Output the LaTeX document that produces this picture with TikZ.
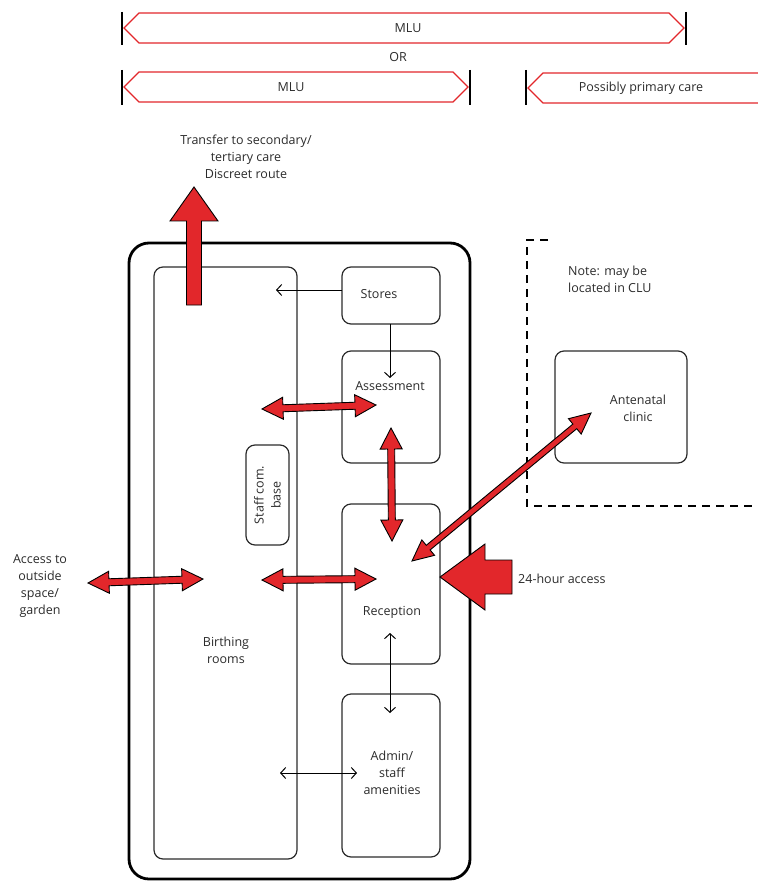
\documentclass[tikz,border=0pt]{standalone}
\usepackage{fontspec}
\setmainfont{Open Sans}
\usetikzlibrary{calc,arrows.meta}
\definecolor{redA}{HTML}{E2272B}
\definecolor{lineA}{HTML}{2B2B2B}
\tikzset{
  room/.style={draw=lineA, line width=1.2pt, rounded corners=9pt, inner sep=0pt},
  lbl/.style={font=\fontsize{12.5}{17}\selectfont, text=lineA, align=center, inner sep=0pt},
  fatarrow/.style={fill=redA, draw=black, line width=0.9pt, line join=miter},
  banner/.style={draw=redA, line width=1.2pt},
  tick/.style={draw=black, line width=1.2pt},
  thin/.style={draw=black, line width=1pt, {Straight Barb[length=5pt,width=11pt]}-{Straight Barb[length=5pt,width=11pt]}},
  thinone/.style={draw=black, line width=1pt, -{Straight Barb[length=5pt,width=11pt]}},
}
\newcommand\fatdbl[5]{%
  \filldraw[fatarrow] (#1)
   -- ($(#1)!#5!(#2)!#4!90:(#2)$) -- ($(#1)!#5!(#2)!#3!90:(#2)$)
   -- ($(#2)!#5!(#1)!#3!-90:(#1)$) -- ($(#2)!#5!(#1)!#4!-90:(#1)$)
   -- (#2)
   -- ($(#2)!#5!(#1)!#4!90:(#1)$) -- ($(#2)!#5!(#1)!#3!90:(#1)$)
   -- ($(#1)!#5!(#2)!#3!-90:(#2)$) -- ($(#1)!#5!(#2)!#4!-90:(#2)$)
   -- cycle;}
\begin{document}
\begin{tikzpicture}[x=1pt,y=-1pt]
\useasboundingbox (0,0) rectangle (757,882);
% ---- banners
\draw[tick] (122,12) -- (122,45);
\draw[tick] (686,12) -- (686,45);
\draw[banner] (124,28) -- (139,13) -- (669,13) -- (684,28) -- (669,43) -- (139,43) -- cycle;
\node[lbl] (mlu1) at (408,28) {MLU};
\node[lbl] (or) at (398,57) {OR};
\draw[tick] (122,70) -- (122,105);
\draw[tick] (470,70) -- (470,105);
\draw[banner] (124,87) -- (139,72) -- (453,72) -- (468,87) -- (453,102) -- (139,102) -- cycle;
\node[lbl] (mlu2) at (291,87) {MLU};
\draw[tick] (526,70) -- (526,105);
\draw[banner] (770,73) -- (543,73) -- (528,88) -- (543,103) -- (770,103);
\node[lbl] (ppc) at (641,88) {Possibly primary care};
% ---- transfer text
\node[lbl] (transfer) at (246,157) {Transfer to secondary/\\tertiary care\\Discreet route};
% ---- outer unit
\draw[draw=black, line width=2.8pt, rounded corners=20pt] (129,243) rectangle (470,879);
% ---- rooms
\node[room, minimum width=143pt, minimum height=592pt] (birth) at (225.5,563) {};
\node[room, minimum width=98pt, minimum height=57pt] (stores) at (391,295.5) {};
\node[room, minimum width=98pt, minimum height=112pt] (assess) at (391,407) {};
\node[room, minimum width=98pt, minimum height=160pt] (recep) at (391,584) {};
\node[room, minimum width=98pt, minimum height=163pt] (admin) at (391,775.5) {};
\node[room, minimum width=43pt, minimum height=100pt] (staff) at (267.5,495) {};
\node[room, minimum width=132pt, minimum height=112pt] (ante) at (621,407) {};
% ---- labels
\node[lbl] (tstores) at (379,294) {Stores};
\node[lbl] (tassess) at (390,386) {Assessment};
\node[lbl] (trecep) at (392,612) {Reception};
\node[lbl] (tadmin) at (392,773) {Admin/\\staff\\amenities};
\node[lbl] (tbirth) at (226,650) {Birthing\\rooms};
\node[lbl, rotate=90] (tstaff) at (267.5,495) {Staff com.\\base};
\node[lbl] (tante) at (638,408) {Antenatal\\clinic};
\node[lbl, align=left, anchor=west] (tnote) at (568,279) {Note: may be\\located in CLU};
\node[lbl] (taccess) at (40,586) {Access to\\outside\\space/\\garden};
\node[lbl, anchor=west] (t24) at (518,579) {24-hour access};
% ---- dashed CLU boundary
\coordinate (d0) at (548,240);
\coordinate (d1) at (527,240);
\coordinate (d2) at (527,506);
\coordinate (d3) at (760,506);
\draw[black, line width=2.8pt, dash pattern=on 8pt off 6pt] (d0) -- (d1) -- (d2) -- (d3);
% ---- thin connectors
\coordinate (s1) at (342,290);
\coordinate (s2) at (276,290);
\draw[thinone] (s1) -- (s2);
\coordinate (s3) at (390,324);
\coordinate (s4) at (390,378);
\draw[thinone] (s3) -- (s4);
\coordinate (r1) at (390,633);
\coordinate (r2) at (390,713);
\draw[thin] (r1) -- (r2);
\coordinate (a1) at (280,773);
\coordinate (a2) at (357,773);
\draw[thin] (a1) -- (a2);
% ---- fat red double arrows
\coordinate (fa1) at (262,409);
\coordinate (fa2) at (376,405);
\fatdbl{fa1}{fa2}{3.5pt}{11pt}{21pt}
\coordinate (fb1) at (391,428);
\coordinate (fb2) at (392,541);
\fatdbl{fb1}{fb2}{3.5pt}{11pt}{21pt}
\coordinate (fc1) at (262,580);
\coordinate (fc2) at (376,579);
\fatdbl{fc1}{fc2}{3.5pt}{11pt}{21pt}
\coordinate (fd1) at (88,583);
\coordinate (fd2) at (203,579);
\fatdbl{fd1}{fd2}{3.5pt}{11pt}{21pt}
\coordinate (fe1) at (412,561);
\coordinate (fe2) at (591,413);
\fatdbl{fe1}{fe2}{3pt}{10pt}{21pt}
% ---- big up arrow (transfer)
\coordinate (up0) at (194,305);
\coordinate (uptip) at (194,187);
\filldraw[fatarrow] (up0) ++(-7.5,0) -- ++(0,-84) -- ++(-16.5,0) -- (uptip) -- ++(24,34) -- ++(-16.5,0) -- ++(0,84) -- cycle;
% ---- 24-hour access arrow
\coordinate (hr0) at (512,577);
\coordinate (hrtip) at (440,577);
\filldraw[fatarrow] (hrtip) -- ++(45,-33) -- ++(0,16) -- ++(27,0) -- ++(0,34) -- ++(-27,0) -- ++(0,16) -- cycle;
\end{tikzpicture}
\end{document}
